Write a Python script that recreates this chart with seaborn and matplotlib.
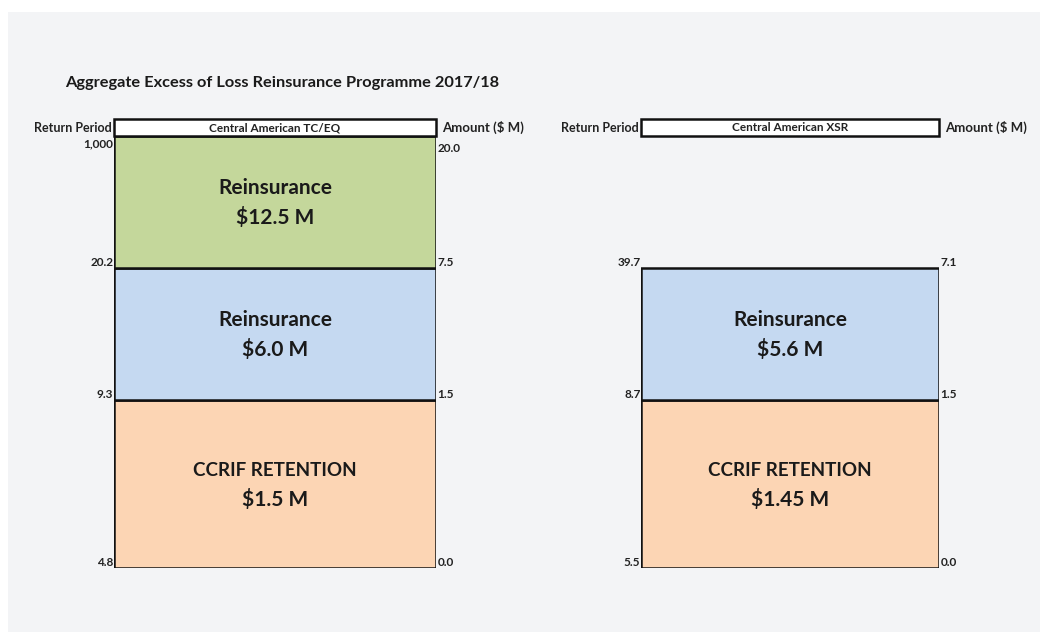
import matplotlib
matplotlib.use("Agg")
import matplotlib.pyplot as plt
from matplotlib.patches import Rectangle
import seaborn as sns

sns.set_theme(style="white")
plt.rcParams['font.family'] = ['Lato', 'DejaVu Sans']

# data
title = "Aggregate Excess of Loss Reinsurance Programme 2017/18"

tceq_name = "Central American TC/EQ"
tceq_layers = ["CCRIF RETENTION", "Reinsurance", "Reinsurance"]
tceq_amounts = ["$1.5 M", "$6.0 M", "$12.5 M"]
tceq_return = ["4.8", "9.3", "20.2", "1,000"]
tceq_limits = ["0.0", "1.5", "7.5", "20.0"]

xsr_name = "Central American XSR"
xsr_layers = ["CCRIF RETENTION", "Reinsurance"]
xsr_amounts = ["$1.45 M", "$5.6 M"]
xsr_return = ["5.5", "8.7", "39.7"]
xsr_limits = ["0.0", "1.5", "7.1"]

# layout / style (drawn height of each layer, not to scale)
layer_heights = [1.27, 1.0, 1.0]
layer_colors = ["#FCD5B4", "#C5D9F1", "#C4D79B"]
ymax = sum(layer_heights)

fig = plt.figure(figsize=(10.44, 6.37), dpi=100, facecolor="white")
fig.patches.append(Rectangle((8 / 1044, 5 / 637), 1032 / 1044, 620 / 637,
                             transform=fig.transFigure, facecolor="#F3F4F6",
                             edgecolor="none", zorder=-10))

fig.text(65 / 1044, 1 - 83 / 637, title, fontsize=11.8, fontweight="bold",
         va="center", ha="left", color="#1a1a1a")


def draw_panel(ax, name, layers, amounts, ret, lims, top_inside):
    bottom = 0
    for i, (lab, amt) in enumerate(zip(layers, amounts)):
        h = layer_heights[i]
        sns.barplot(x=[name], y=[h], bottom=bottom, color=layer_colors[i],
                    saturation=1, width=1, edgecolor="#111111", linewidth=1.8,
                    ax=ax)
        mid = bottom + h / 2
        fs = 13.5 if lab.isupper() else 15
        ax.text(0, mid + 0.105, lab, ha="center", va="center", fontsize=fs,
                fontweight="bold", color="#1a1a1a")
        ax.text(0, mid - 0.115, amt, ha="center", va="center", fontsize=15,
                fontweight="bold", color="#1a1a1a")
        bottom += h
    ax.set_xlim(-0.5, 0.5)
    ax.set_ylim(0, ymax)
    ax.axis("off")

    # boundary labels
    bounds = [0]
    for h in layer_heights[:len(layers)]:
        bounds.append(bounds[-1] + h)
    for j, b in enumerate(bounds):
        at_top = top_inside and j == len(bounds) - 1
        va = "top" if at_top else "bottom"
        yy = b - 0.02 if at_top else b
        ax.text(-0.502, yy, ret[j], ha="right", va=va, fontsize=8.5,
                fontweight="bold", color="#222222")
        ax.text(0.505, yy - (0.03 if at_top else 0), lims[j], ha="left",
                va=va, fontsize=8.5, fontweight="bold", color="#222222")

    # header box
    hh = 17 / 432
    ax.add_patch(Rectangle((-0.5, ymax), 1, ymax * hh, facecolor="white",
                           edgecolor="#111111", linewidth=1.8, clip_on=False))
    ax.text(0, ymax * (1 + hh / 2), name, ha="center", va="center",
            fontsize=8.5, fontweight="bold", color="#222222")
    ax.text(-0.506, ymax * (1 + hh / 2), "Return Period", ha="right",
            va="center", fontsize=9, fontweight="bold", color="#222222")
    ax.text(0.52, ymax * (1 + hh / 2), "Amount ($ M)", ha="left",
            va="center", fontsize=9.5, fontweight="bold", color="#222222")


ax1 = fig.add_axes([114 / 1044, 1 - 568 / 637, 322 / 1044, 432 / 637])
draw_panel(ax1, tceq_name, tceq_layers, tceq_amounts, tceq_return,
           tceq_limits, True)

ax2 = fig.add_axes([641 / 1044, 1 - 568 / 637, 298 / 1044, 432 / 637])
draw_panel(ax2, xsr_name, xsr_layers, xsr_amounts, xsr_return,
           xsr_limits, False)

fig.savefig("out.png", dpi=100, facecolor=fig.get_facecolor())
